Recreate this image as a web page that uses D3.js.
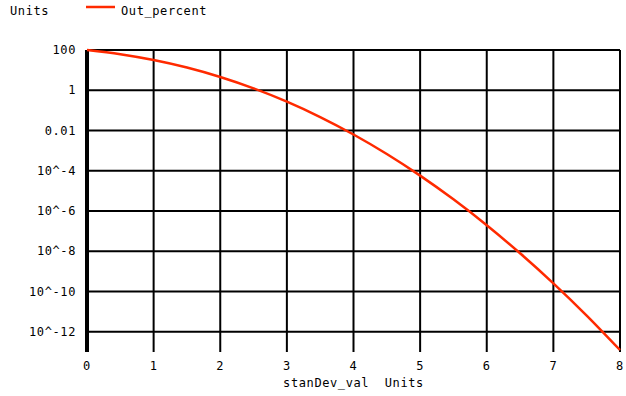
<!DOCTYPE html>
<html>
<head>
<meta charset="utf-8">
<script src="https://cdn.jsdelivr.net/npm/d3@7"></script>
<style>
  body { margin: 0; background: #fff; }
  text { font-family: "DejaVu Sans Mono", monospace; font-size: 12px; letter-spacing: 0.6px; fill: #000; }
</style>
</head>
<body>
<div id="chart"></div>
<script>
// data
let stanDevVal = [0, 0.5, 1, 1.5, 2, 2.5, 3, 3.5, 4, 4.5, 5, 5.5, 6, 6.5, 7, 7.5, 8];
let outPercent = [100, 61.7, 31.7, 13.4, 4.55, 1.24, 0.27, 0.0465, 0.00633, 6.8e-4,
    5.73e-5, 3.8e-6, 1.97e-7, 8.0e-9, 2.56e-10, 6.4e-12, 1.24e-13];
let xTicks = [0, 1, 2, 3, 4, 5, 6, 7, 8];
let yTicks = [100, 1, 0.01, 1e-4, 1e-6, 1e-8, 1e-10, 1e-12];
let yTickLabels = ["100", "1", "0.01", "10^-4", "10^-6", "10^-8", "10^-10", "10^-12"];

let svgWidth = 626, svgHeight = 396;
let margin = { top: 50, right: 6, bottom: 46, left: 87 };
let width = svgWidth - margin.left - margin.right;
let height = svgHeight - margin.top - margin.bottom;

let svg = d3.select("#chart").append("svg")
    .attr("width", svgWidth)
    .attr("height", svgHeight);

let g = svg.append("g")
    .attr("transform", `translate(${margin.left}, ${margin.top})`);

let x = d3.scaleLinear().domain([0, 8]).range([0, width]);
let y = d3.scaleLog().domain([1.24e-13, 100]).range([height, 0]);

// horizontal grid
g.selectAll(".hgrid").data(yTicks).enter().append("line")
    .attr("x1", 0).attr("x2", width)
    .attr("y1", d => y(d)).attr("y2", d => y(d))
    .attr("stroke", "#000").attr("stroke-width", 2);

// vertical grid
g.selectAll(".vgrid").data(xTicks.slice(1)).enter().append("line")
    .attr("x1", d => x(d)).attr("x2", d => x(d))
    .attr("y1", 0).attr("y2", height + 2)
    .attr("stroke", "#000").attr("stroke-width", 2);

// thick left axis
g.append("line")
    .attr("x1", 0).attr("x2", 0)
    .attr("y1", 0).attr("y2", height + 2)
    .attr("stroke", "#000").attr("stroke-width", 4);

// y labels
g.selectAll(".ylab").data(yTicks).enter().append("text")
    .attr("x", -11).attr("y", d => y(d) + 4)
    .attr("text-anchor", "end")
    .text((d, i) => yTickLabels[i]);

// x labels
g.selectAll(".xlab").data(xTicks).enter().append("text")
    .attr("x", d => x(d)).attr("y", height + 20)
    .attr("text-anchor", "middle")
    .text(d => d);

g.append("text")
    .attr("x", width / 2).attr("y", height + 37)
    .attr("text-anchor", "middle")
    .attr("xml:space", "preserve")
    .text("stanDev_val  Units");

// curve
let line = d3.line()
    .x((d, i) => x(stanDevVal[i]))
    .y(d => y(d))
    .curve(d3.curveMonotoneX);

g.append("path")
    .datum(outPercent)
    .attr("d", line)
    .attr("fill", "none")
    .attr("stroke", "#ff2a00")
    .attr("stroke-width", 2.5);

// legend
svg.append("text").attr("x", 10).attr("y", 15).text("Units");
svg.append("line")
    .attr("x1", 86).attr("x2", 115).attr("y1", 7).attr("y2", 7)
    .attr("stroke", "#ff2a00").attr("stroke-width", 2.5);
svg.append("text").attr("x", 121).attr("y", 15).text("Out_percent");
</script>
</body>
</html>
